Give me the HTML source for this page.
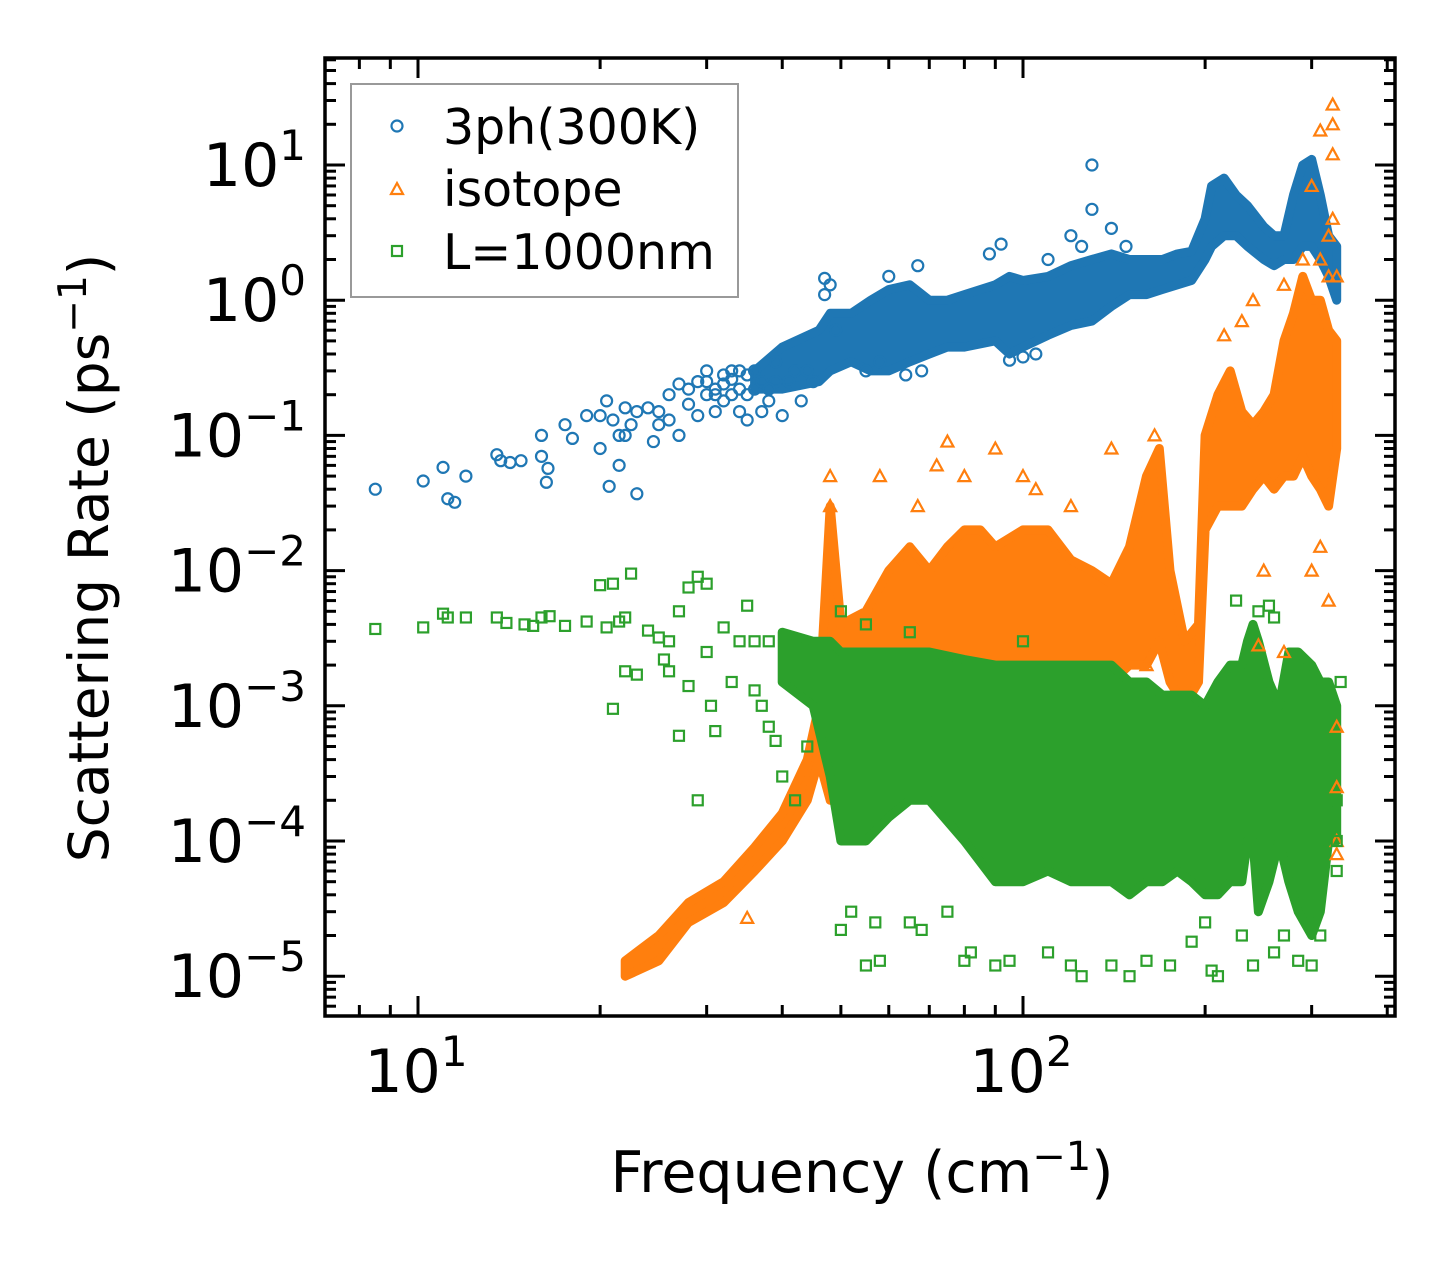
<!DOCTYPE html>
<html><head><meta charset="utf-8"><style>
html,body{margin:0;padding:0;background:#fff;}
svg{display:block;font-family:"DejaVu Sans","Liberation Sans",sans-serif;}
</style></head><body>
<svg id="chart" width="1455" height="1265" viewBox="0 0 1455 1265">
<g id="bands"></g>
<g id="marks"></g>
<g id="axes"></g>
<text x="108" y="558" font-size="55" text-anchor="middle" transform="rotate(-90 108 558)">Scattering Rate (ps<tspan dy="-22" font-size="39">−1</tspan><tspan dy="22">)</tspan></text>
<text x="862" y="1192" font-size="57" text-anchor="middle">Frequency (cm<tspan dy="-22" font-size="40">−1</tspan><tspan dy="22">)</tspan></text>
<g>
<rect x="351" y="84" width="387" height="213" fill="#fff" stroke="#999" stroke-width="2"/>
<g><circle cx="397" cy="126" r="5.5" fill="none" stroke="#1f77b4" stroke-width="2.2"/><text x="443" y="144" font-size="49">3ph(300K)</text></g>
<g><polygon points="397,183 403,194 391,194" fill="none" stroke="#ff7f0e" stroke-width="2.2"/><text x="443" y="206" font-size="49">isotope</text></g>
<g><rect x="392" y="246" width="10" height="10" fill="none" stroke="#2ca02c" stroke-width="2.2"/><text x="443" y="269" font-size="49">L=1000nm</text></g>
</g>
</svg>
<script>
// dense-region envelopes: frequency, lower rate, upper rate
const blueBandF=[36,40,46,48,52,56,60,65,70,75,80,90,95,100,110,120,130,140,150,160,170,180,190,200,205,215,225,235,250,260,270,280,290,300,310,320,330];
const blueBandLo=[0.22,0.22,0.25,0.3,0.35,0.3,0.3,0.35,0.4,0.45,0.45,0.5,0.4,0.45,0.55,0.65,0.7,0.9,1.1,1.1,1.2,1.3,1.4,2.0,2.5,3,3,2.5,2,1.8,2,2,2.5,2.5,2,1.5,1.0];
const blueBandHi=[0.3,0.45,0.6,0.8,0.8,1.0,1.2,1.3,1.0,1.0,1.1,1.3,1.5,1.4,1.5,1.8,2.0,2.2,2.0,2.0,2.0,2.2,2.3,4,7,8,6,5,3.5,3,3,6,10,11,6,3,2.5];
const orangeBandF=[22,25,28,32,36,40,44,46,48,50,55,60,65,70,75,80,85,90,100,110,120,130,140,150,160,168,175,185,195,200,210,220,230,240,250,260,270,280,290,300,310,320,330];
const orangeBandLo=[1e-5,1.3e-5,2.5e-5,3.5e-5,6e-5,1e-4,2e-4,4e-4,2e-4,3e-4,5e-4,5e-4,8e-4,1e-3,1.5e-3,2e-3,2e-3,2e-3,2e-3,2e-3,2e-3,1.5e-3,1.5e-3,2e-3,2e-3,3e-3,1.5e-3,1e-3,1.5e-3,2e-2,3e-2,3e-2,3e-2,4e-2,5e-2,4e-2,5e-2,5e-2,7e-2,5e-2,4e-2,3e-2,8e-2];
const orangeBandHi=[1.3e-5,2e-5,3.5e-5,5e-5,9e-5,1.6e-4,4e-4,1e-3,3e-2,4e-3,5e-3,1e-2,1.5e-2,1e-2,1.5e-2,2e-2,2e-2,1.5e-2,2e-2,2e-2,1.2e-2,1e-2,8e-3,1.5e-2,5e-2,8e-2,1e-2,3e-3,4e-3,1e-1,2e-1,3e-1,1.5e-1,1.2e-1,1.5e-1,2e-1,5e-1,8e-1,1.5,1,1,0.6,0.5];
const greenBandF=[40,45,48,50,55,60,65,70,80,90,100,110,120,130,140,150,160,170,180,190,200,210,220,230,235,240,245,255,265,275,285,300,310,320,330];
const greenBandLo=[1.5e-3,1e-3,3e-4,1e-4,1e-4,1.5e-4,2e-4,2e-4,1e-4,5e-5,5e-5,6e-5,5e-5,5e-5,5e-5,4e-5,5e-5,5e-5,6e-5,5e-5,4e-5,4e-5,5e-5,5e-5,1e-4,1e-4,3e-5,5e-5,1e-4,5e-5,3e-5,2e-5,3e-5,1e-4,1e-4];
const greenBandHi=[3.5e-3,3e-3,3e-3,2.5e-3,2.5e-3,2.5e-3,2.5e-3,2.5e-3,2.2e-3,2e-3,2e-3,2e-3,2e-3,2e-3,2e-3,1.5e-3,1.5e-3,1.2e-3,1.2e-3,1.2e-3,1e-3,1.5e-3,2e-3,2e-3,3e-3,4e-3,3e-3,1.5e-3,1e-3,2.5e-3,2.5e-3,2e-3,1.5e-3,1.5e-3,1e-3];
// individual points
const blueF=[8.5,10.2,11,11.2,11.5,12,13.5,13.7,14.2,14.8,16,16,16.3,16.4,17.5,18,19,20,20,20.5,20.7,21,21.5,21.5,22,22,22.5,23,23,24,24.5,25,25,26,26,27,27,28,28,29,29,30,31,32,33,34,35,36,37,38,39,40,41,42,43,44,45,47,47,48,49,130,130,88,92,110,120,125,140,148,60,67,55,58,64,68,95,100,105,30,31,32,33,34,35,30,31,32,33,34,35,36,37,38,39];
const blueR=[0.04,0.046,0.058,0.034,0.032,0.05,0.072,0.065,0.063,0.065,0.1,0.07,0.045,0.057,0.12,0.095,0.14,0.08,0.14,0.18,0.042,0.13,0.06,0.1,0.16,0.1,0.12,0.037,0.15,0.16,0.09,0.12,0.15,0.2,0.13,0.24,0.1,0.22,0.17,0.25,0.14,0.3,0.15,0.28,0.2,0.15,0.13,0.22,0.15,0.18,0.25,0.14,0.25,0.3,0.18,0.3,0.25,1.45,1.1,1.3,0.6,10,4.7,2.2,2.6,2.0,3,2.5,3.4,2.5,1.5,1.8,0.3,0.35,0.28,0.3,0.36,0.38,0.4,0.2,0.22,0.24,0.26,0.3,0.28,0.25,0.2,0.18,0.3,0.22,0.2,0.3,0.25,0.22,0.35];
const orangeF=[35,48,48,58,67,72,75,80,90,100,105,120,140,165,215,230,240,270,290,300,310,325,325,325,325,320,310,320,330,330,330,330,330,320,300,310,250,245,270,160];
const orangeR=[2.7e-5,5e-2,3e-2,5e-2,3e-2,6e-2,9e-2,5e-2,8e-2,5e-2,4e-2,3e-2,0.08,0.1,0.55,0.7,1.0,1.3,2,7,18,28,20,12,4,3,2,1.5,1.5,1e-4,8e-5,2.5e-4,7e-4,6e-3,1e-2,1.5e-2,1e-2,2.8e-3,2.5e-3,2e-3];
const greenF=[8.5,10.2,11,11.2,12,13.5,14,15,15.5,16,16.5,17.5,19,20,20.5,21,21.5,22,22.5,22,21,23,24,25,25.5,26,26,27,27,28,28,29,29,30,30,30.5,31,32,33,34,35,36,36,37,38,38,39,40,42,44,50,52,55,58,57,65,68,75,80,82,90,95,110,120,125,140,150,160,175,190,205,210,240,260,285,300,310,200,230,270,245,255,260,50,55,65,100,330,330,330,225,335];
const greenR=[3.7e-3,3.8e-3,4.8e-3,4.5e-3,4.5e-3,4.5e-3,4.1e-3,4e-3,3.9e-3,4.5e-3,4.6e-3,3.9e-3,4.2e-3,7.8e-3,3.8e-3,8e-3,4.2e-3,4.5e-3,9.5e-3,1.8e-3,9.5e-4,1.7e-3,3.6e-3,3.2e-3,2.2e-3,1.8e-3,3e-3,5e-3,6e-4,7.5e-3,1.4e-3,9e-3,2e-4,8e-3,2.5e-3,1e-3,6.5e-4,3.8e-3,1.5e-3,3e-3,5.5e-3,1.3e-3,3e-3,1e-3,7e-4,3e-3,5.5e-4,3e-4,2e-4,5e-4,2.2e-5,3e-5,1.2e-5,1.3e-5,2.5e-5,2.5e-5,2.2e-5,3e-5,1.3e-5,1.5e-5,1.2e-5,1.3e-5,1.5e-5,1.2e-5,1e-5,1.2e-5,1e-5,1.3e-5,1.2e-5,1.8e-5,1.1e-5,1e-5,1.2e-5,1.5e-5,1.3e-5,1.2e-5,2e-5,2.5e-5,2e-5,2e-5,5e-3,5.5e-3,4.5e-3,5e-3,4e-3,3.5e-3,3e-3,2e-4,1e-4,6e-5,6e-3,1.5e-3];
const xTicks=[10,100];
const yTicks=[1e1,1e0,1e-1,1e-2,1e-3,1e-4,1e-5];
const yExp=['1','0','−1','−2','−3','−4','−5'];

const NS='http://www.w3.org/2000/svg';
const L=325,R=1395,T=58,B=1016;
function X(f){return 418+605*Math.log10(f/10);}
function Y(r){return 165-135.2*(Math.log10(r)-1);}
function mk(tag,attrs,parent){const e=document.createElementNS(NS,tag);for(const k in attrs)e.setAttribute(k,attrs[k]);parent.appendChild(e);return e;}
const bands=document.getElementById('bands'),marks=document.getElementById('marks'),axes=document.getElementById('axes');
const clip=mk('clipPath',{id:'pc'},mk('defs',{},document.getElementById('chart')));
mk('rect',{x:L,y:T,width:R-L,height:B-T},clip);
bands.setAttribute('clip-path','url(#pc)');
marks.setAttribute('clip-path','url(#pc)');

function band(F,Lo,Hi,color,name){
  let pts=[];
  for(let i=0;i<F.length;i++)pts.push(X(F[i]).toFixed(1)+','+Y(Hi[i]).toFixed(1));
  for(let i=F.length-1;i>=0;i--)pts.push(X(F[i]).toFixed(1)+','+Y(Lo[i]).toFixed(1));
  const p=mk('polygon',{points:pts.join(' '),fill:color,stroke:color,'stroke-width':9,'stroke-linejoin':'round'},bands);
  
  
}
function pts(F,Rr,color,shape,name){
  const g=mk('g',{fill:'none',stroke:color,'stroke-width':2.2},marks);
  
  
  for(let i=0;i<F.length;i++){
    const x=X(F[i]),y=Y(Rr[i]);let e;
    if(shape==='c')e=mk('circle',{cx:x,cy:y,r:5.5},g);
    else if(shape==='t')e=mk('polygon',{points:`${x},${y-6} ${x+6},${y+5} ${x-6},${y+5}`},g);
    else e=mk('rect',{x:x-5,y:y-5,width:10,height:10},g);
    
    
  }
}
band(blueBandF,blueBandLo,blueBandHi,'#1f77b4','3ph-dense-band');
pts(blueF,blueR,'#1f77b4','c','3ph-series');
band(orangeBandF,orangeBandLo,orangeBandHi,'#ff7f0e','isotope-dense-band');
pts(orangeF,orangeR,'#ff7f0e','t','isotope-series');
band(greenBandF,greenBandLo,greenBandHi,'#2ca02c','boundary-dense-band');
pts(greenF,greenR,'#2ca02c','s','boundary-series');

// frame
mk('rect',{x:L,y:T,width:R-L,height:B-T,fill:'none',stroke:'#000','stroke-width':3.5},axes);
// x ticks
for(let d=1;d<=100;d*=10){for(let m=1;m<=9;m++){const f=d*m;const x=X(f);if(x<L||x>R)continue;const len=m===1?20:11;
  mk('line',{x1:x,y1:B,x2:x,y2:B-len,stroke:'#000','stroke-width':3},axes);
  mk('line',{x1:x,y1:T,x2:x,y2:T+len,stroke:'#000','stroke-width':3},axes);}}
xTicks.forEach((v,i)=>{const t=mk('text',{x:X(v)-2,y:1092,'font-size':60,'text-anchor':'middle'},axes);t.innerHTML='10<tspan dy="-26" font-size="42">'+(i+1)+'</tspan>';
  });
// y ticks
for(let e=-6;e<=1;e++){for(let m=1;m<=9;m++){const r=m*Math.pow(10,e);const y=Y(r);if(y<T||y>B)continue;const len=m===1?20:11;
  mk('line',{x1:L,y1:y,x2:L+len,y2:y,stroke:'#000','stroke-width':3},axes);
  mk('line',{x1:R,y1:y,x2:R-len,y2:y,stroke:'#000','stroke-width':3},axes);}}
yTicks.forEach((v,i)=>{const t=mk('text',{x:306,y:Y(v)+21,'font-size':60,'text-anchor':'end'},axes);t.innerHTML='10<tspan dy="-26" font-size="42">'+yExp[i]+'</tspan>';
  });
</script>
</body></html>
